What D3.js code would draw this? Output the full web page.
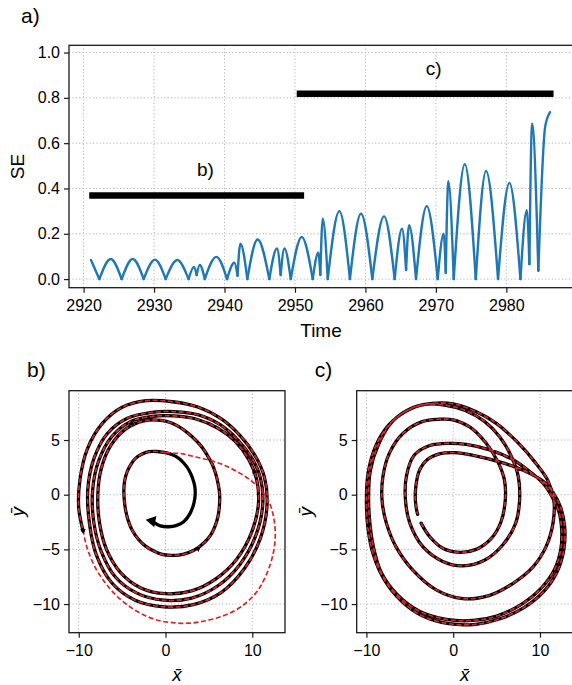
<!DOCTYPE html>
<html>
<head>
<meta charset="utf-8">
<script src="https://cdn.jsdelivr.net/npm/d3@7"></script>
<style>
  body { margin: 0; background: #fff; }
  svg text { font-family: "Liberation Sans", Arial, Helvetica, sans-serif; fill: #000; }
  .tick text { font-size: 16px; }
  .axis-label { font-size: 19px; }
  .panel-label { font-size: 21px; }
  .math { font-style: italic; }
</style>
</head>
<body>
<div id="chart"></div>
<script>
// ---- panel a: SE vs time (peaks and cusps) ----
const seTime = [2921.05, 2922.23, 2923.85, 2925.4, 2926.97, 2928.53, 2930.13, 2931.65, 2933.3, 2934.9,
  2935.67, 2936.05, 2936.48, 2937.2, 2938.84, 2940.36, 2941.4, 2941.85, 2942.25, 2943.24,
  2944.7, 2946.36, 2947.45, 2947.97, 2948.5, 2949.4, 2950.96, 2952.52, 2953.32, 2953.6,
  2953.94, 2954.65, 2956.3, 2957.8, 2959.37, 2960.98, 2962.64, 2964.15, 2965.2, 2965.77,
  2966.19, 2967.18, 2968.7, 2970.26, 2971.1, 2971.4, 2971.77, 2972.53, 2974.1, 2975.66,
  2977.12, 2978.82, 2980.43, 2982.0, 2982.9, 2983.27, 2983.65, 2984.54, 2985.5, 2986.2];
const seValue = [0.084, 0, 0.089, 0, 0.089, 0, 0.086, 0, 0.084, 0,
  0.054, 0.018, 0.062, 0, 0.098, 0, 0.072, 0.015, 0.156, 0,
  0.175, 0, 0.135, 0.018, 0.135, 0, 0.186, 0, 0.116, 0.018,
  0.267, 0, 0.30, 0, 0.289, 0, 0.277, 0, 0.222, 0.04,
  0.238, 0, 0.322, 0, 0.2, 0.028, 0.432, 0, 0.507, 0,
  0.477, 0, 0.424, 0, 0.304, 0.066, 0.686, 0.037, 0.671, 0.737];

// time windows shown in panels b) and c)
const windowName = ["b)", "c)"];
const windowStart = [2920.8, 2950.25];
const windowEnd = [2951.3, 2986.7];
const windowLevel = [0.369, 0.818];
const windowTextTime = [2937.3, 2969.7];
const windowTextLevel = [0.455, 0.9];

const seTicksX = [2920, 2930, 2940, 2950, 2960, 2970, 2980];
const seTicksY = [0, 0.2, 0.4, 0.6, 0.8, 1.0];

// ---- panels b, c: phase portraits (x̄, ȳ) ----
const bSpiral = [[-1.54,-2.41],[-0.6,-2.85],[0.38,-2.93],[1.3,-2.8],[2.1,-2.47],[2.8,-1.75],[3.27,-0.79],
  [3.42,0.0],[3.38,0.73],[3.1,1.55],[2.69,2.26],[2.15,2.85],[1.54,3.32],[0.8,3.65],[0,3.84]];
const bOrbit = [[0,3.84],[-1.0,3.95],[-1.92,3.93],[-2.75,3.7],[-3.46,3.32],[-4.0,2.75],[-4.42,2.1],[-4.7,1.3],
  [-4.8,0.43],[-4.75,-0.5],[-4.6,-1.4],[-4.3,-2.35],[-3.85,-3.23],[-3.15,-4.05],[-2.3,-4.7],[-1.35,-5.15],
  [-0.38,-5.46],[0.6,-5.55],[1.54,-5.52],[2.65,-5.3],[3.65,-4.9],[4.5,-4.35],[5.2,-3.7],[5.7,-2.9],
  [6.04,-2.0],[6.22,-0.95],[6.23,0.12],[6.05,1.05],[5.77,1.95],[5.35,2.85],[4.8,3.63],[4.2,4.35],
  [3.46,5.0],[2.55,5.65],[1.54,6.22],[0.55,6.6],[-0.5,6.8],
  [-2.5,6.75],[-4.6,6.0],[-6.3,4.5],[-7.4,2.4],[-7.8,0],[-7.6,-2.6],[-6.8,-5.0],[-5.2,-7.1],[-2.9,-8.5],
  [0,-9.05],[3.0,-8.8],[5.8,-7.7],[8.2,-5.9],[9.9,-3.5],[10.7,-0.9],[10.5,1.4],[9.6,3.2],[8.0,4.9],
  [6.0,6.1],[3.6,6.9],[1.0,7.2],[-1.6,7.15],
  [-4.0,6.7],[-6.2,5.3],[-7.7,3.1],[-8.4,0.4],[-8.25,-2.6],[-7.4,-5.2],[-5.8,-7.5],[-3.3,-9.0],
  [-0.2,-9.65],[3.0,-9.45],[6.0,-8.35],[8.6,-6.35],[10.4,-3.75],[11.2,-0.95],[10.95,1.5],[9.95,3.35],
  [8.35,5.0],[6.3,6.4],[3.8,7.3],[1.0,7.6],[-1.8,7.5],
  [-4.4,7.0],[-6.7,5.6],[-8.25,3.3],[-8.95,0.5],[-8.75,-2.7],[-7.95,-5.55],[-6.2,-8.05],[-3.5,-9.65],
  [-0.2,-10.25],[3.2,-10.05],[6.4,-8.95],[9.1,-6.75],[10.95,-3.95],[11.7,-0.95],[11.4,1.6],[10.3,3.6],
  [8.6,5.4],[6.4,6.95],[3.8,8.0],[0.8,8.5],[-2.2,8.6],
  [-5.0,8.0],[-7.3,6.5],[-9.0,4.2],[-9.85,1.4],[-10.0,-1.2],[-9.5,-3.3]];
const bDetour = [[0,3.84],[1.8,3.75],[3.5,3.45],[5.3,3.1],[6.9,2.65],[8.6,1.95],[10.0,1.2],[11.2,0.2],
  [11.9,-0.6],[12.45,-2.0],[12.65,-3.6],[12.5,-5.0],[12.1,-6.3],[11.4,-7.7],[10.4,-9.0],[8.8,-10.2],
  [6.9,-11.0],[4.8,-11.5],[2.7,-11.75],[0.8,-11.7],[-0.8,-11.5],[-2.5,-11.0],[-4.2,-10.2],[-5.7,-9.2],
  [-6.9,-8.1],[-8.0,-6.8],[-8.8,-5.4],[-9.2,-4.4],[-9.45,-3.4]];
// arrow heads: x, y, direction dx, dy
const bStart = [[-1.54, -2.41, -1, 0.15]];
const bArrows = [[-9.5,-3.3,0.1,-1],[3.75,-4.95,1,0.6],[10.25,2.1,-0.5,1],[-3.9,6.5,-1,-0.5]];

const cPath = [[-3.7,-2.6],[-2.7,-3.85],[-1.2,-4.9],[0.7,-5.27],[2.65,-5.0],[4.4,-4.0],[5.5,-2.5],[6.0,-0.5],
  [5.9,1.35],[5.15,3.0],[3.8,4.7],[1.9,6.2],[0,6.85],[-1.6,6.9],[-3.5,6.7],[-5.8,5.6],[-7.35,3.8],
  [-8.1,1.65],[-8.2,-0.5],[-7.7,-2.6],[-6.6,-4.75],[-4.65,-6.9],[-1.96,-8.7],[1.1,-9.5],[4.2,-9.2],
  [6.9,-8.1],[9.2,-6.6],[10.7,-4.75],[11.5,-2.6],[11.6,-0.5],[10.9,1.3],[9.4,3.0],[7.4,4.8],[5.0,6.5],
  [2.6,7.6],[0,8.3],[-2.4,8.35],[-4.7,7.95],[-7.0,6.7],[-8.6,4.6],[-9.55,2.2],[-9.75,-0.2],[-9.6,-2.6],
  [-9.2,-4.75],[-8.3,-7.1],[-6.5,-9.1],[-3.9,-10.65],[-0.8,-11.4],[2.3,-11.5],[5.0,-11.1],[7.9,-10.0],
  [10.2,-8.5],[11.7,-6.8],[12.4,-5.0],[12.5,-3.2],[12.2,-1.6],[11.4,-0.2],[10.4,1.0],
  [9.0,2.0],[6.9,3.2],[4.2,4.1],[1.5,4.6],[-0.4,4.7],[-2.7,4.5],[-4.5,3.6],[-5.4,1.65],[-5.5,-0.5],
  [-5.0,-2.6],[-3.5,-4.75],[-1.2,-6.1],[1.1,-6.5],[3.6,-6.0],[5.7,-4.6],[7.2,-2.6],[7.65,-0.5],[7.5,1.65],
  [6.7,3.5],[5.35,5.3],[3.6,6.7],[1.4,7.7],[-1.0,8.2],[-3.3,8.25],
  [-5.5,7.6],[-7.4,6.4],[-8.9,4.5],[-9.8,2.0],[-10.0,-0.7],[-9.8,-3.2],[-9.2,-5.5],[-8.0,-7.7],
  [-6.0,-9.7],[-3.5,-11.1],[-0.5,-11.8],[2.6,-11.85],[5.4,-11.35],[8.2,-10.3],[10.5,-8.8],[12.0,-7.0],
  [12.75,-5.0],[12.85,-3.0],[12.4,-1.2],[11.5,0.2],[10.4,1.2],
  [8.0,2.25],[5.35,3.0],[2.3,3.6],[0.2,3.85],[-1.5,3.75],[-3.0,3.2],[-3.9,2.2],[-4.3,0.8],[-4.35,-0.6],[-4.1,-1.8]];
const cArrows = [[-9.75,-2.8,0.1,-1]];

const phaseTicksX = [-10, 0, 10];
const phaseTicksY = [-10, -5, 0, 5];

// ---- drawing ----
const svg = d3.select("#chart")
  .append("svg")
    .attr("width", 572)
    .attr("height", 685);

const ink = "#1a1a1a";
const gridColor = "#b5b5b5";

function drawGrid(g, x, y, xt, yt) {
  const [x0, x1] = x.range(), [y0, y1] = y.range();
  g.append("g").selectAll("line").data(xt).join("line")
    .attr("x1", d => x(d)).attr("x2", d => x(d)).attr("y1", y0).attr("y2", y1)
    .attr("stroke", gridColor).attr("stroke-width", 1).attr("stroke-dasharray", "1.2,2.2");
  g.append("g").selectAll("line").data(yt).join("line")
    .attr("y1", d => y(d)).attr("y2", d => y(d)).attr("x1", x0).attr("x2", x1)
    .attr("stroke", gridColor).attr("stroke-width", 1).attr("stroke-dasharray", "1.2,2.2");
}

function drawAxes(g, x, y, xt, yt, fx, fy) {
  const [x0, x1] = x.range(), [y0, y1] = y.range();
  const xa = g.append("g")
    .attr("transform", `translate(0,${y0})`)
    .call(d3.axisBottom(x).tickValues(xt).tickFormat(fx).tickSize(5).tickPadding(7).tickSizeOuter(0));
  const ya = g.append("g")
    .attr("transform", `translate(${x0},0)`)
    .call(d3.axisLeft(y).tickValues(yt).tickFormat(fy).tickSize(5).tickPadding(4).tickSizeOuter(0));
  [xa, ya].forEach(a => {
    a.attr("font-size", null).attr("font-family", null);
    a.select(".domain").remove();
    a.selectAll(".tick line").attr("stroke", ink).attr("stroke-width", 1.2);
  });
  g.append("rect")
    .attr("x", x0).attr("y", y1).attr("width", x1 - x0).attr("height", y0 - y1)
    .attr("fill", "none").attr("stroke", ink).attr("stroke-width", 1.3);
}

// panel a
const gA = svg.append("g");
const xA = d3.scaleLinear().domain([2917.93, 2989.6]).range([69, 574]);
const yA = d3.scaleLinear().domain([-0.038, 1.032]).range([287.7, 45.3]);
drawGrid(gA, xA, yA, seTicksX, seTicksY);

// split at the minima so each arch keeps its sharp cusp
const sePts = seTime.map((t, i) => [t, seValue[i]]);
const arches = [];
let arch = [sePts[0]];
for (let i = 1; i < sePts.length; i++) {
  arch.push(sePts[i]);
  if (i < sePts.length - 1 && seValue[i] < seValue[i - 1] && seValue[i] < seValue[i + 1]) {
    arches.push(arch);
    arch = [sePts[i]];
  }
}
arches.push(arch);

const seLine = d3.line().x(d => xA(d[0])).y(d => yA(d[1])).curve(d3.curveMonotoneX);
gA.append("g").selectAll("path").data(arches).join("path")
  .attr("d", seLine)
  .attr("fill", "none")
  .attr("stroke", "#1f77b4")
  .attr("stroke-width", 2.4)
  .attr("stroke-linecap", "round")
  .attr("stroke-linejoin", "round");

gA.append("g").selectAll("line").data(windowName).join("line")
  .attr("x1", (d, i) => xA(windowStart[i]))
  .attr("x2", (d, i) => xA(windowEnd[i]))
  .attr("y1", (d, i) => yA(windowLevel[i]))
  .attr("y2", (d, i) => yA(windowLevel[i]))
  .attr("stroke", "#000")
  .attr("stroke-width", 6.5);

gA.append("g").selectAll("text").data(windowName).join("text")
  .attr("class", "axis-label")
  .attr("x", (d, i) => xA(windowTextTime[i]))
  .attr("y", (d, i) => yA(windowTextLevel[i]))
  .attr("text-anchor", "middle")
  .text(d => d);

drawAxes(gA, xA, yA, seTicksX, seTicksY, d3.format("d"), d3.format(".1f"));

gA.append("text").attr("class", "panel-label").attr("x", 21).attr("y", 23).text("a)");
gA.append("text").attr("class", "axis-label")
  .attr("transform", "translate(23.5,166.5) rotate(-90)")
  .attr("text-anchor", "middle").text("SE");
gA.append("text").attr("class", "axis-label")
  .attr("x", 321).attr("y", 336.5).attr("text-anchor", "middle").text("Time");

// phase panels
function arrowHeads(g, x, y, list, size) {
  g.append("g").selectAll("path").data(list).join("path")
    .attr("d", d3.symbol(d3.symbolTriangle, size))
    .attr("transform", d => {
      const sx = x(d[0] + d[2]) - x(d[0]), sy = y(d[1] + d[3]) - y(d[1]);
      const ang = Math.atan2(sy, sx) * 180 / Math.PI + 90;
      return `translate(${x(d[0])},${y(d[1])}) rotate(${ang})`;
    })
    .attr("fill", "#000");
}

function phasePanel(left, label, solid, dashed, arrows, start) {
  const g = svg.append("g");
  const x = d3.scaleLinear().domain([-11.12, 13.77]).range([left, left + 216]);
  const y = d3.scaleLinear().domain([-12.62, 9.51]).range([632.7, 390.7]);
  drawGrid(g, x, y, phaseTicksX, phaseTicksY);

  const line = d3.line().x(d => x(d[0])).y(d => y(d[1])).curve(d3.curveCatmullRom.alpha(0.5));
  g.append("path").datum(solid)
    .attr("d", line).attr("fill", "none").attr("stroke", "#000")
    .attr("stroke-width", 3.3).attr("stroke-linejoin", "round").attr("stroke-linecap", "round");
  g.append("g").selectAll("path").data(dashed).join("path")
    .attr("d", line).attr("fill", "none").attr("stroke", "#d62728")
    .attr("stroke-width", 1.7).attr("stroke-dasharray", "5,2.6");
  arrowHeads(g, x, y, arrows, 14);
  if (start) arrowHeads(g, x, y, start, 55);

  drawAxes(g, x, y, phaseTicksX, phaseTicksY, d3.format("d"), d3.format("d"));
  g.append("text").attr("class", "panel-label").attr("x", left - 42).attr("y", 377).text(label);
  g.append("text").attr("class", "axis-label math")
    .attr("x", left + 108).attr("y", 681).attr("text-anchor", "middle").text("x\u0304");
  g.append("text").attr("class", "axis-label math")
    .attr("transform", `translate(${left - 45},511.7) rotate(-90)`)
    .attr("text-anchor", "middle").text("\u0233");
}

phasePanel(69, "b)", bSpiral.concat(bOrbit.slice(1)), [bOrbit, bDetour], bArrows, bStart);
phasePanel(356.7, "c)", cPath, [cPath], cArrows, null);
</script>
</body>
</html>
